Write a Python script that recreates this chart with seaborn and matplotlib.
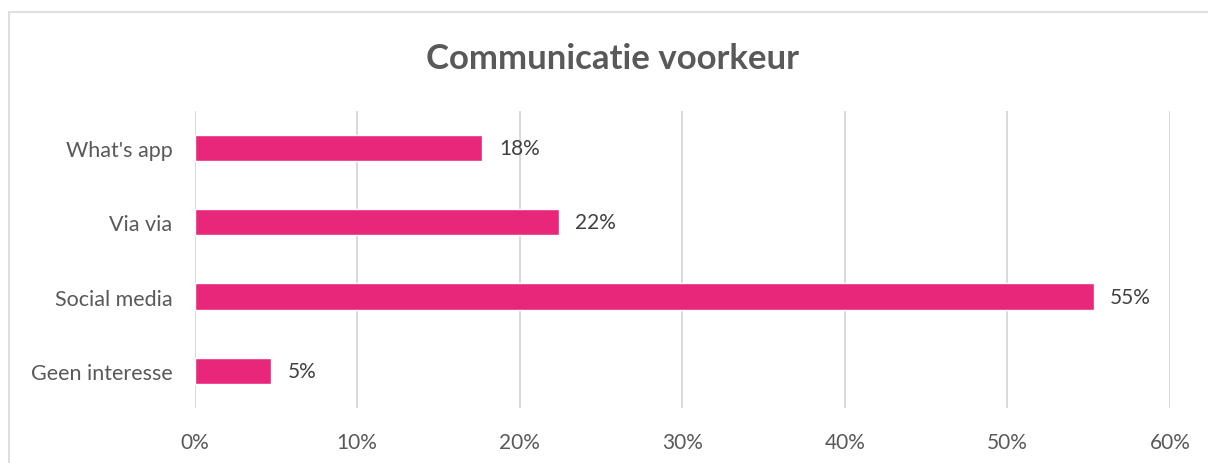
import matplotlib
matplotlib.use("Agg")
import matplotlib.pyplot as plt
import seaborn as sns
import pandas as pd
from matplotlib.patches import Rectangle
from matplotlib.ticker import PercentFormatter

# data
categories = ["What's app", "Via via", "Social media", "Geen interesse"]
shares = [0.177, 0.224, 0.553, 0.047]
x_ticks = [0.0, 0.1, 0.2, 0.3, 0.4, 0.5, 0.6]
title = "Communicatie voorkeur"

bar_color = "#E8277A"
text_color = "#595959"
grid_color = "#D9D9D9"

sns.set_theme(style="white")
plt.rcParams["font.family"] = ["Lato", "DejaVu Sans"]

df = pd.DataFrame({"categorie": categories, "aandeel": shares})

fig = plt.figure(figsize=(12.08, 4.64), dpi=100)
ax = fig.add_axes([0.1611, 0.1179, 0.8074, 0.6414])

sns.barplot(data=df, x="aandeel", y="categorie", order=categories,
            color=bar_color, saturation=1, width=0.355, ax=ax)

ax.set_xlim(0, 0.6)
ax.set_xticks(x_ticks)
ax.xaxis.set_major_formatter(PercentFormatter(1.0, decimals=0))
ax.grid(axis="x", color=grid_color, linewidth=1.4)
ax.set_axisbelow(True)
for side in ["top", "right", "bottom", "left"]:
    ax.spines[side].set_visible(False)
ax.tick_params(axis="x", length=0, labelsize=15, colors=text_color, pad=17)
ax.tick_params(axis="y", length=0, labelsize=15.5, colors=text_color, pad=16)
ax.set_xlabel("")
ax.set_ylabel("")

ax.bar_label(ax.containers[0], labels=[f"{v:.0%}" for v in shares],
             padding=12, fontsize=15, color="#404040")

fig.text(613 / 1208, 1 - 59 / 464, title, ha="center", va="center",
         fontsize=25, fontweight="bold", color=text_color)

# light outer frame like the Excel chart area
fig.patches.append(Rectangle((9 / 1208, -0.1), 1.2, 1 - 13 / 464 + 0.1,
                             transform=fig.transFigure, fill=False,
                             edgecolor=grid_color, linewidth=1.2))

fig.savefig("out.png", dpi=100)
plt.close(fig)
